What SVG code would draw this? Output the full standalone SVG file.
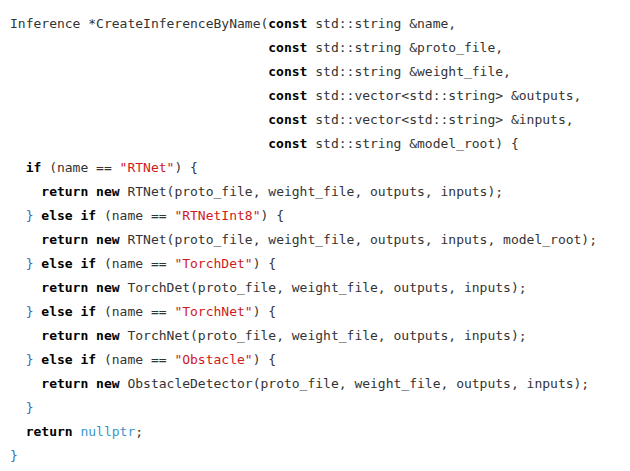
<svg xmlns="http://www.w3.org/2000/svg" width="630" height="471" viewBox="0 0 630 471">
<style>
text{font-family:"DejaVu Sans Mono","Liberation Mono",monospace;font-size:13px;fill:#333;white-space:pre}
.k{font-weight:bold;fill:#000}
.s{fill:#d0191c}
.n{fill:#3a96c8}
.b{fill:#3c6fa8}
</style>
<rect width="630" height="471" fill="#fff"/>
<g id="code" xml:space="preserve">
<text x="10" y="28">Inference *CreateInferenceByName(<tspan class="k">const</tspan> std::string &amp;name,</text>
<text x="10" y="52">                                 <tspan class="k">const</tspan> std::string &amp;proto_file,</text>
<text x="10" y="76">                                 <tspan class="k">const</tspan> std::string &amp;weight_file,</text>
<text x="10" y="100">                                 <tspan class="k">const</tspan> std::vector&lt;std::string&gt; &amp;outputs,</text>
<text x="10" y="124">                                 <tspan class="k">const</tspan> std::vector&lt;std::string&gt; &amp;inputs,</text>
<text x="10" y="148">                                 <tspan class="k">const</tspan> std::string &amp;model_root) {</text>
<text x="10" y="172">  <tspan class="k">if</tspan> (name == <tspan class="s">"RTNet"</tspan>) {</text>
<text x="10" y="196">    <tspan class="k">return</tspan> <tspan class="k">new</tspan> RTNet(proto_file, weight_file, outputs, inputs);</text>
<text x="10" y="220">  <tspan class="b">}</tspan> <tspan class="k">else</tspan> <tspan class="k">if</tspan> (name == <tspan class="s">"RTNetInt8"</tspan>) {</text>
<text x="10" y="244">    <tspan class="k">return</tspan> <tspan class="k">new</tspan> RTNet(proto_file, weight_file, outputs, inputs, model_root);</text>
<text x="10" y="268">  <tspan class="b">}</tspan> <tspan class="k">else</tspan> <tspan class="k">if</tspan> (name == <tspan class="s">"TorchDet"</tspan>) {</text>
<text x="10" y="292">    <tspan class="k">return</tspan> <tspan class="k">new</tspan> TorchDet(proto_file, weight_file, outputs, inputs);</text>
<text x="10" y="316">  <tspan class="b">}</tspan> <tspan class="k">else</tspan> <tspan class="k">if</tspan> (name == <tspan class="s">"TorchNet"</tspan>) {</text>
<text x="10" y="340">    <tspan class="k">return</tspan> <tspan class="k">new</tspan> TorchNet(proto_file, weight_file, outputs, inputs);</text>
<text x="10" y="364">  <tspan class="b">}</tspan> <tspan class="k">else</tspan> <tspan class="k">if</tspan> (name == <tspan class="s">"Obstacle"</tspan>) {</text>
<text x="10" y="388">    <tspan class="k">return</tspan> <tspan class="k">new</tspan> ObstacleDetector(proto_file, weight_file, outputs, inputs);</text>
<text x="10" y="412">  <tspan class="b">}</tspan></text>
<text x="10" y="436">  <tspan class="k">return</tspan> <tspan class="n">nullptr</tspan>;</text>
<text x="10" y="460"><tspan class="b">}</tspan></text>
</g>
</svg>
